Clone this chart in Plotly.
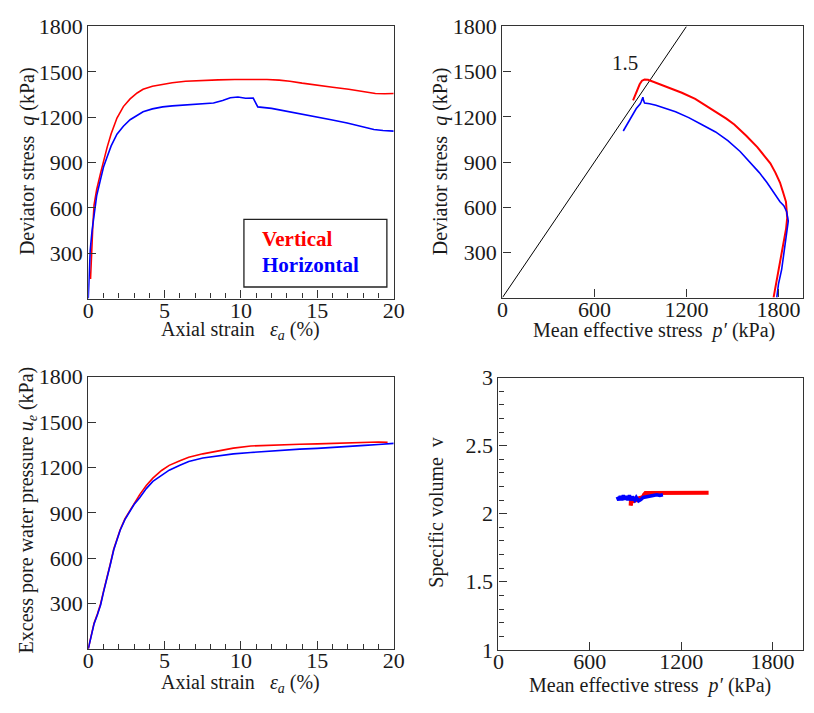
import plotly.graph_objects as go

W, H = 814, 713

# ---- Top-left: deviator stress vs axial strain ----
tl_strain_v = [0.15, 0.2, 0.3, 0.38, 0.55, 0.81, 1.0, 1.24, 1.5, 1.88, 2.3, 2.74, 3.2, 3.59, 4.2, 4.87, 5.5, 6.37, 7.5, 8.5, 9.6, 10.5, 11.7, 12.5, 13.2, 14.0, 14.9, 16.0, 17.05, 18.0, 18.8, 19.4, 20.0]
tl_q_v = [130, 300, 480, 619, 720, 832, 915, 1002, 1090, 1194, 1270, 1321, 1360, 1385, 1405, 1417, 1428, 1438, 1444, 1447, 1449, 1450, 1449, 1445, 1438, 1425, 1411, 1398, 1385, 1370, 1357, 1355, 1357]
tl_strain_h = [0, 0.05, 0.13, 0.25, 0.38, 0.55, 0.81, 1.0, 1.24, 1.5, 1.88, 2.3, 2.74, 3.2, 3.59, 4.2, 4.87, 5.5, 6.5, 7.4, 8.2, 8.8, 9.3, 9.8, 10.3, 10.8, 10.95, 11.1, 12.0, 12.6, 13.7, 14.8, 15.9, 16.95, 17.9, 18.7, 19.3, 20.0]
tl_q_h = [0, 150, 321, 450, 555, 680, 790, 870, 938, 1010, 1087, 1140, 1183, 1215, 1236, 1255, 1268, 1275, 1283, 1288, 1294, 1310, 1328, 1333, 1325, 1326, 1300, 1268, 1258, 1247, 1228, 1204, 1183, 1162, 1140, 1119, 1112, 1108]

# ---- Top-right: stress path ----
tr_p_v = [1768, 1775, 1789, 1810, 1832, 1850, 1857, 1849, 1830, 1810, 1780, 1747, 1705, 1662, 1590, 1512, 1460, 1406, 1330, 1257, 1170, 1086, 1030, 980, 950, 927, 910, 895, 870, 852]
tr_q_v = [0, 40, 124, 240, 359, 460, 529, 636, 700, 764, 830, 892, 945, 999, 1075, 1149, 1188, 1223, 1275, 1319, 1360, 1394, 1418, 1437, 1446, 1448, 1440, 1416, 1360, 1309]
tr_p_h = [1789, 1800, 1821, 1843, 1858, 1864, 1853, 1835, 1810, 1770, 1725, 1675, 1619, 1550, 1470, 1390, 1299, 1215, 1129, 1060, 1001, 960, 927, 920, 916, 905, 899, 873, 830, 788]
tr_q_h = [0, 90, 188, 337, 440, 508, 572, 610, 636, 700, 764, 830, 892, 970, 1042, 1100, 1149, 1195, 1234, 1260, 1277, 1287, 1292, 1310, 1330, 1300, 1287, 1255, 1180, 1106]
csl_p = [0, 1200]
csl_q = [0, 1800]

# ---- Bottom-left: excess pore water pressure vs axial strain ----
bl_strain_v = [0, 0.2, 0.38, 0.6, 0.81, 1.0, 1.24, 1.45, 1.67, 1.9, 2.09, 2.4, 2.74, 3.0, 3.38, 3.8, 4.23, 4.8, 5.3, 6.0, 6.58, 7.5, 8.5, 9.5, 10.64, 12.0, 13.85, 15.0, 15.98, 17.0, 18.1, 19.0, 19.6]
bl_u_v = [0, 90, 170, 230, 298, 380, 469, 565, 660, 730, 788, 860, 916, 965, 1022, 1080, 1129, 1180, 1214, 1245, 1267, 1290, 1310, 1328, 1342, 1348, 1353, 1356, 1359, 1362, 1368, 1368, 1366]
bl_strain_h = [0, 0.2, 0.38, 0.6, 0.81, 1.0, 1.24, 1.45, 1.67, 1.9, 2.09, 2.4, 2.74, 3.0, 3.38, 3.8, 4.23, 4.8, 5.3, 6.0, 6.58, 7.5, 8.5, 9.5, 10.64, 12.0, 13.85, 15.0, 15.98, 17.0, 18.1, 19.0, 20.0]
bl_u_h = [0, 85, 165, 225, 290, 375, 465, 560, 655, 725, 785, 855, 910, 955, 1001, 1060, 1108, 1150, 1182, 1215, 1240, 1262, 1278, 1290, 1299, 1310, 1321, 1326, 1331, 1338, 1346, 1352, 1359]

# ---- Bottom-right: specific volume vs mean effective stress ----
br_p_v = [1380, 1300, 1200, 1100, 1000, 965, 955, 950, 940, 925, 905, 890, 875, 868, 866, 870]
br_v_v = [2.155, 2.155, 2.155, 2.155, 2.155, 2.152, 2.14, 2.125, 2.12, 2.115, 2.10, 2.095, 2.09, 2.06, 2.09, 2.10]
br_p_h = [1080, 1060, 1040, 1000, 970, 950, 935, 920, 905, 895, 880, 870, 860, 850, 840, 830, 820, 810, 800, 790, 780]
br_v_h = [2.14, 2.135, 2.14, 2.13, 2.125, 2.12, 2.105, 2.095, 2.12, 2.10, 2.125, 2.10, 2.135, 2.10, 2.13, 2.105, 2.135, 2.10, 2.13, 2.10, 2.125]

q_ticks = [300, 600, 900, 1200, 1500, 1800]
strain_ticks = [0, 5, 10, 15, 20]
p_ticks = [0, 600, 1200, 1800]
v_ticks = [1, 1.5, 2, 2.5, 3]

RED = "#ff0000"
BLUE = "#0000ff"
FONT = "Liberation Serif"
TXT = "#1a1a1a"
AX = "#333333"


def px_x(x):
    return x / W


def px_y(y):
    return 1 - y / H


fig = go.Figure()
fig.add_trace(go.Scatter(x=tl_strain_v, y=tl_q_v, mode="lines", line=dict(color=RED, width=1.6), xaxis="x", yaxis="y"))
fig.add_trace(go.Scatter(x=tl_strain_h, y=tl_q_h, mode="lines", line=dict(color=BLUE, width=1.6), xaxis="x", yaxis="y"))
fig.add_trace(go.Scatter(x=csl_p, y=csl_q, mode="lines", line=dict(color="black", width=1), xaxis="x2", yaxis="y2"))
fig.add_trace(go.Scatter(x=tr_p_v, y=tr_q_v, mode="lines", line=dict(color=RED, width=2), xaxis="x2", yaxis="y2"))
fig.add_trace(go.Scatter(x=tr_p_h, y=tr_q_h, mode="lines", line=dict(color=BLUE, width=1.6), xaxis="x2", yaxis="y2"))
fig.add_trace(go.Scatter(x=bl_strain_v, y=bl_u_v, mode="lines", line=dict(color=RED, width=1.6), xaxis="x3", yaxis="y3"))
fig.add_trace(go.Scatter(x=bl_strain_h, y=bl_u_h, mode="lines", line=dict(color=BLUE, width=1.6), xaxis="x3", yaxis="y3"))
fig.add_trace(go.Scatter(x=br_p_v, y=br_v_v, mode="lines", line=dict(color=RED, width=4), xaxis="x4", yaxis="y4"))
fig.add_trace(go.Scatter(x=br_p_h, y=br_v_h, mode="lines", line=dict(color=BLUE, width=3.5), xaxis="x4", yaxis="y4"))

tickfont = dict(family=FONT, size=22, color=TXT)


def axis(domain, rng, tickvals, anchor, minor_dtick=None, standoff=0):
    d = dict(domain=domain, range=rng, tickvals=tickvals, ticktext=[str(t) for t in tickvals],
             ticks="inside", ticklen=8, tickwidth=1.2, tickcolor=AX,
             showline=True, linecolor=AX, linewidth=1.3, mirror=True,
             showgrid=False, zeroline=False, tickfont=tickfont, anchor=anchor, fixedrange=True,
             ticklabelstandoff=standoff)
    if minor_dtick is not None:
        d["minor"] = dict(dtick=minor_dtick, ticks="inside", ticklen=5, tickwidth=1, tickcolor=AX, showgrid=False)
    return d


XS = -8
fig.update_layout(
    width=W, height=H, margin=dict(l=0, r=0, t=0, b=0),
    paper_bgcolor="white", plot_bgcolor="white", showlegend=False,
    xaxis=axis([px_x(84), px_x(396)], [0, 20], strain_ticks, "y", minor_dtick=1, standoff=XS),
    yaxis=axis([px_y(297), px_y(15)], [0, 1800], q_ticks, "x"),
    xaxis2=axis([px_x(507), 1.0], [0, 1960], p_ticks, "y2", standoff=XS),
    yaxis2=axis([px_y(296), px_y(15)], [0, 1800], q_ticks, "x2"),
    xaxis3=axis([px_x(84), px_x(396)], [0, 20], strain_ticks, "y3", minor_dtick=1, standoff=XS),
    yaxis3=axis([px_y(660), px_y(378)], [0, 1800], q_ticks, "x3"),
    xaxis4=axis([px_x(503), 1.0], [0, 2000], p_ticks, "y4", standoff=XS),
    yaxis4=axis([px_y(661), px_y(379)], [1, 3], v_ticks, "x4", minor_dtick=0.1),
)

annots = []
tfont = dict(family=FONT, size=20, color=TXT)


def ann(text, x, y, angle=0, font=tfont, xanchor="center"):
    annots.append(dict(text=text, x=px_x(x), y=px_y(y), xref="paper", yref="paper",
                       showarrow=False, textangle=angle, font=font, xanchor=xanchor, yanchor="middle"))


ann("Axial strain   <i>ε<sub>a</sub></i> (%)", 240, 330)
ann("Deviator stress  <i>q</i> (kPa)", 22, 155, angle=-90)
ann("Mean effective stress  <i>p′</i> (kPa)", 662, 330)
ann("Deviator stress  <i>q</i> (kPa)", 444, 155, angle=-90)
ann("Axial strain   <i>ε<sub>a</sub></i> (%)", 240, 696)
ann("Excess pore water pressure <i>u<sub>e</sub></i> (kPa)", 22, 516, angle=-90)
ann("Mean effective stress  <i>p′</i> (kPa)", 658, 698)
ann("Specific volume  v", 440, 518, angle=-90)
ann("1.5", 632, 53, font=dict(family=FONT, size=21, color=TXT))
ann("<b>Vertical</b>", 259, 235, font=dict(family=FONT, size=21, color=RED), xanchor="left")
ann("<b>Horizontal</b>", 259, 262, font=dict(family=FONT, size=21, color=BLUE), xanchor="left")

fig.update_layout(annotations=annots)
fig.add_shape(type="rect", xref="paper", yref="paper",
              x0=px_x(243), x1=px_x(389), y0=px_y(285), y1=px_y(215),
              line=dict(color="#222", width=1.3), fillcolor="white", layer="above")

fig.write_html("out.html")
